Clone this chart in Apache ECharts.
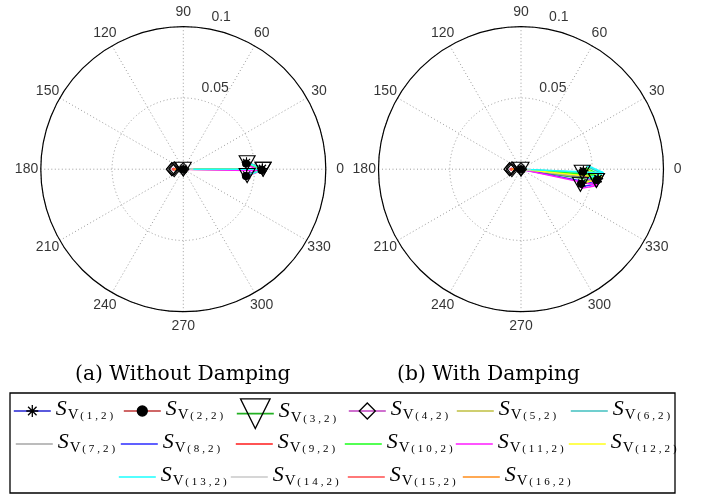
<!DOCTYPE html>
<html>
<head>
<meta charset="utf-8">
<script src="https://cdn.jsdelivr.net/npm/echarts@6/dist/echarts.min.js"></script>
<style>
  html, body { margin: 0; padding: 0; background: #fff; }
  #chart { width: 702px; height: 496px; }
</style>
</head>
<body>
<div id="chart"></div>
<script>
// Compass plots of the voltage mode-shape components S_V(k,2), k = 1..16,
// without damping (left) and with damping (right).

const seriesIndex = [1, 2, 3, 4, 5, 6, 7, 8, 9, 10, 11, 12, 13, 14, 15, 16];

// Magnitude and phase (degrees) of each component, without damping
const magNoDamping = [0.0555, 0.0550, 0.0560, 0.0080, 0.0555, 0.0560, 0.0545, 0.0550,
                      0.0075, 0.0555, 0.0545, 0.0560, 0.0562, 0.0070, 0.0078, 0.0065];
const angNoDamping = [0.5, -0.5, 0, 180, 0, 0.3, 0, 0.2,
                      180, -0.3, -1.2, 0, 0, 0, 180, 180];

// Magnitude and phase (degrees) of each component, with damping
const magDamping = [0.0545, 0.0540, 0.0535, 0.0080, 0.0555, 0.0570, 0.0550, 0.0540,
                    0.0075, 0.0565, 0.0550, 0.0575, 0.0580, 0.0070, 0.0078, 0.0065];
const angDamping = [-7, -8, -8.5, 180, -5.5, -3, -7.5, -11,
                    180, -4.5, -12, -6, -2.5, -5, 180, 182];

const angleTicks = [0, 30, 60, 90, 120, 150, 180, 210, 240, 270, 300, 330];
const radiusTicks = [0.05, 0.1];
const captions = ['(a) Without Damping', '(b) With Damping'];

// Line colours and markers of the sixteen components
const seriesColors = ['#2323d2', '#bf3434', '#22b022', '#bf40bf', '#bfbf40', '#40bfbf',
                      '#a6a6a6', '#2b2bff', '#ff1a1a', '#1aff1a', '#ff1aff', '#ffff1a',
                      '#1affff', '#c8c8c8', '#ff4d4d', '#ff8c1a'];
const STAR = 'path://M0,-10L0,10M-10,0L10,0M-7.07,-7.07L7.07,7.07M-7.07,7.07L7.07,-7.07';
const TRI_DOWN = 'path://M0,0L20,0L10,17.3Z';
const markerStyle = {
  0: { symbol: STAR, size: 10, fill: 'rgba(0,0,0,0)', legendH: 15, legendDy: 0 },
  1: { symbol: 'circle', size: 7, fill: '#000', legendH: 12.5, legendDy: 0 },
  2: { symbol: TRI_DOWN, size: [16, 14], fill: 'rgba(0,0,0,0)', legendH: 37, legendDy: 3 },
  3: { symbol: 'diamond', size: [11, 13], fill: 'rgba(0,0,0,0)', legendH: 20, legendDy: 0 }
};

const nameOf = k => 'S_V(' + k + ',2)';

// Compass arrow: origin -> tip, then the two barbs of the arrow head
const HEAD_LEN = 0.8, HEAD_HALF = 0.08;
const norm = a => ((a % 360) + 360) % 360;
function arrow(mag, ang) {
  const wr = mag * Math.hypot(HEAD_LEN, HEAD_HALF);
  const wa = Math.atan2(HEAD_HALF, HEAD_LEN) * 180 / Math.PI;
  return [[0, norm(ang)], [mag, norm(ang)], [wr, norm(ang + wa)],
          [mag, norm(ang)], [wr, norm(ang - wa)]];
}

const gridLine = { color: '#9c9c9c', width: 1, type: [1, 2.5] };
const axisFont = { fontFamily: 'Liberation Sans', fontSize: 14, color: '#000' };

const polar = [
  { center: [183.3, 169.2], radius: 142.5 },
  { center: [521, 169.2], radius: 142.5 }
];

const angleAxis = [0, 1].map(i => ({
  polarIndex: i, type: 'value', min: 0, max: 360, interval: 30,
  startAngle: 0, clockwise: false, z: 1,
  axisLine: { show: true, lineStyle: { color: '#000', width: 1.2 } },
  axisTick: { show: false }, axisLabel: { show: false },
  splitLine: { show: true, lineStyle: gridLine }
}));
const radiusAxis = [0, 1].map(i => ({
  polarIndex: i, type: 'value', min: 0, max: 0.1, interval: 0.05, z: 0,
  axisLine: { show: false }, axisTick: { show: false }, axisLabel: { show: false },
  splitLine: { show: true, lineStyle: gridLine }
}));

const series = [];
[[magNoDamping, angNoDamping], [magDamping, angDamping]].forEach(([mags, angs], p) => {
  seriesIndex.forEach((k, j) => {
    const m = markerStyle[j];
    series.push({
      type: 'line', coordinateSystem: 'polar', polarIndex: p,
      name: nameOf(k), data: arrow(mags[j], angs[j]),
      symbol: m ? m.symbol : 'none', symbolSize: m ? m.size : 0,
      showSymbol: !!m, clip: false, silent: true, animation: false,
      lineStyle: { color: seriesColors[j], width: 1.5 },
      itemStyle: m ? { color: m.fill, borderColor: '#000', borderWidth: 1.1 }
                   : { color: seriesColors[j] },
      emphasis: { disabled: true }
    });
  });
  // angle tick labels, centred at 1.1 x the outer radius
  series.push({
    type: 'scatter', coordinateSystem: 'polar', polarIndex: p, silent: true,
    animation: false, clip: false, symbolSize: 1, itemStyle: { color: 'rgba(0,0,0,0)' },
    data: angleTicks.map(a => [0.11, a]),
    label: { show: true, position: 'inside', align: 'center', verticalAlign: 'middle',
             formatter: q => String(q.value[1]), ...axisFont }
  });
  // radius tick labels along the 82 degree ray
  series.push({
    type: 'scatter', coordinateSystem: 'polar', polarIndex: p, silent: true,
    animation: false, clip: false, symbolSize: 1, itemStyle: { color: 'rgba(0,0,0,0)' },
    data: radiusTicks.map(r => [r + 0.0025, 82, r]),
    label: { show: true, position: 'inside', align: 'left', verticalAlign: 'bottom',
             formatter: q => '  ' + String(q.value[2]), ...axisFont }
  });
});

// Legend: one entry per component, laid out in three rows
const legendRows = [
  { y: 410, lefts: [13, 123, 236, 348, 456, 570], items: [1, 2, 3, 4, 5, 6] },
  { y: 443, lefts: [15, 120, 235, 344, 455, 568], items: [7, 8, 9, 10, 11, 12] },
  { y: 476, lefts: [118, 230, 347, 462], items: [13, 14, 15, 16] }
];
const TEXT_H = 24;
const rich = {
  s: { fontFamily: 'Liberation Serif', fontStyle: 'italic', fontSize: 22, color: '#000',
       verticalAlign: 'bottom', lineHeight: TEXT_H, padding: [0, 0, 3, 0] },
  v: { fontFamily: 'Liberation Serif', fontSize: 15, color: '#000',
       verticalAlign: 'bottom', lineHeight: TEXT_H, padding: [0, 0, 0, 1] },
  q: { fontFamily: 'Liberation Serif', fontSize: 11, color: '#000',
       verticalAlign: 'bottom', lineHeight: TEXT_H, padding: [0, 1.5, 1, 1.5] }
};
function legendText(name) {
  const sub = name.slice(3);
  return '{s|S}{v|V}' + sub.split('').map(ch => '{q|' + ch + '}').join('');
}
const legend = [];
legendRows.forEach(row => {
  row.items.forEach((k, c) => {
    const j = k - 1;
    const m = markerStyle[j];
    const h = m ? m.legendH : 14;
    // the item box starts at the higher of the marker top and the text top
    const boxTop = Math.min(0.1 * h, (h - TEXT_H) / 2);
    legend.push({
      data: [nameOf(k)], left: row.lefts[c],
      top: row.y - h / 2 + boxTop + (m ? m.legendDy : 0),
      orient: 'horizontal', padding: 0, itemGap: 0, itemWidth: 37, itemHeight: h,
      selectedMode: false, formatter: legendText,
      textStyle: { rich: rich },
      lineStyle: { color: seriesColors[j], width: 1.6 },
      itemStyle: m ? { color: m.fill, borderColor: '#000', borderWidth: 1.3, opacity: 1 }
                   : { opacity: 0 }
    });
  });
});

const captionFont = { fontFamily: 'DejaVu Serif', fontSize: 20.3, fontWeight: 'normal', color: '#000' };

const chart = echarts.init(document.getElementById('chart'), null, { renderer: 'canvas' });
chart.setOption({
  animation: false,
  backgroundColor: '#fff',
  title: [
    { text: captions[0], left: 75, top: 365, padding: 0, textStyle: captionFont },
    { text: captions[1], left: 397, top: 365, padding: 0, textStyle: captionFont }
  ],
  polar: polar,
  angleAxis: angleAxis,
  radiusAxis: radiusAxis,
  legend: legend,
  graphic: [{
    type: 'rect', silent: true, z: -1,
    shape: { x: 10, y: 393, width: 665, height: 100 },
    style: { fill: 'none', stroke: '#000', lineWidth: 1.3 }
  }],
  series: series
});
</script>
</body>
</html>
